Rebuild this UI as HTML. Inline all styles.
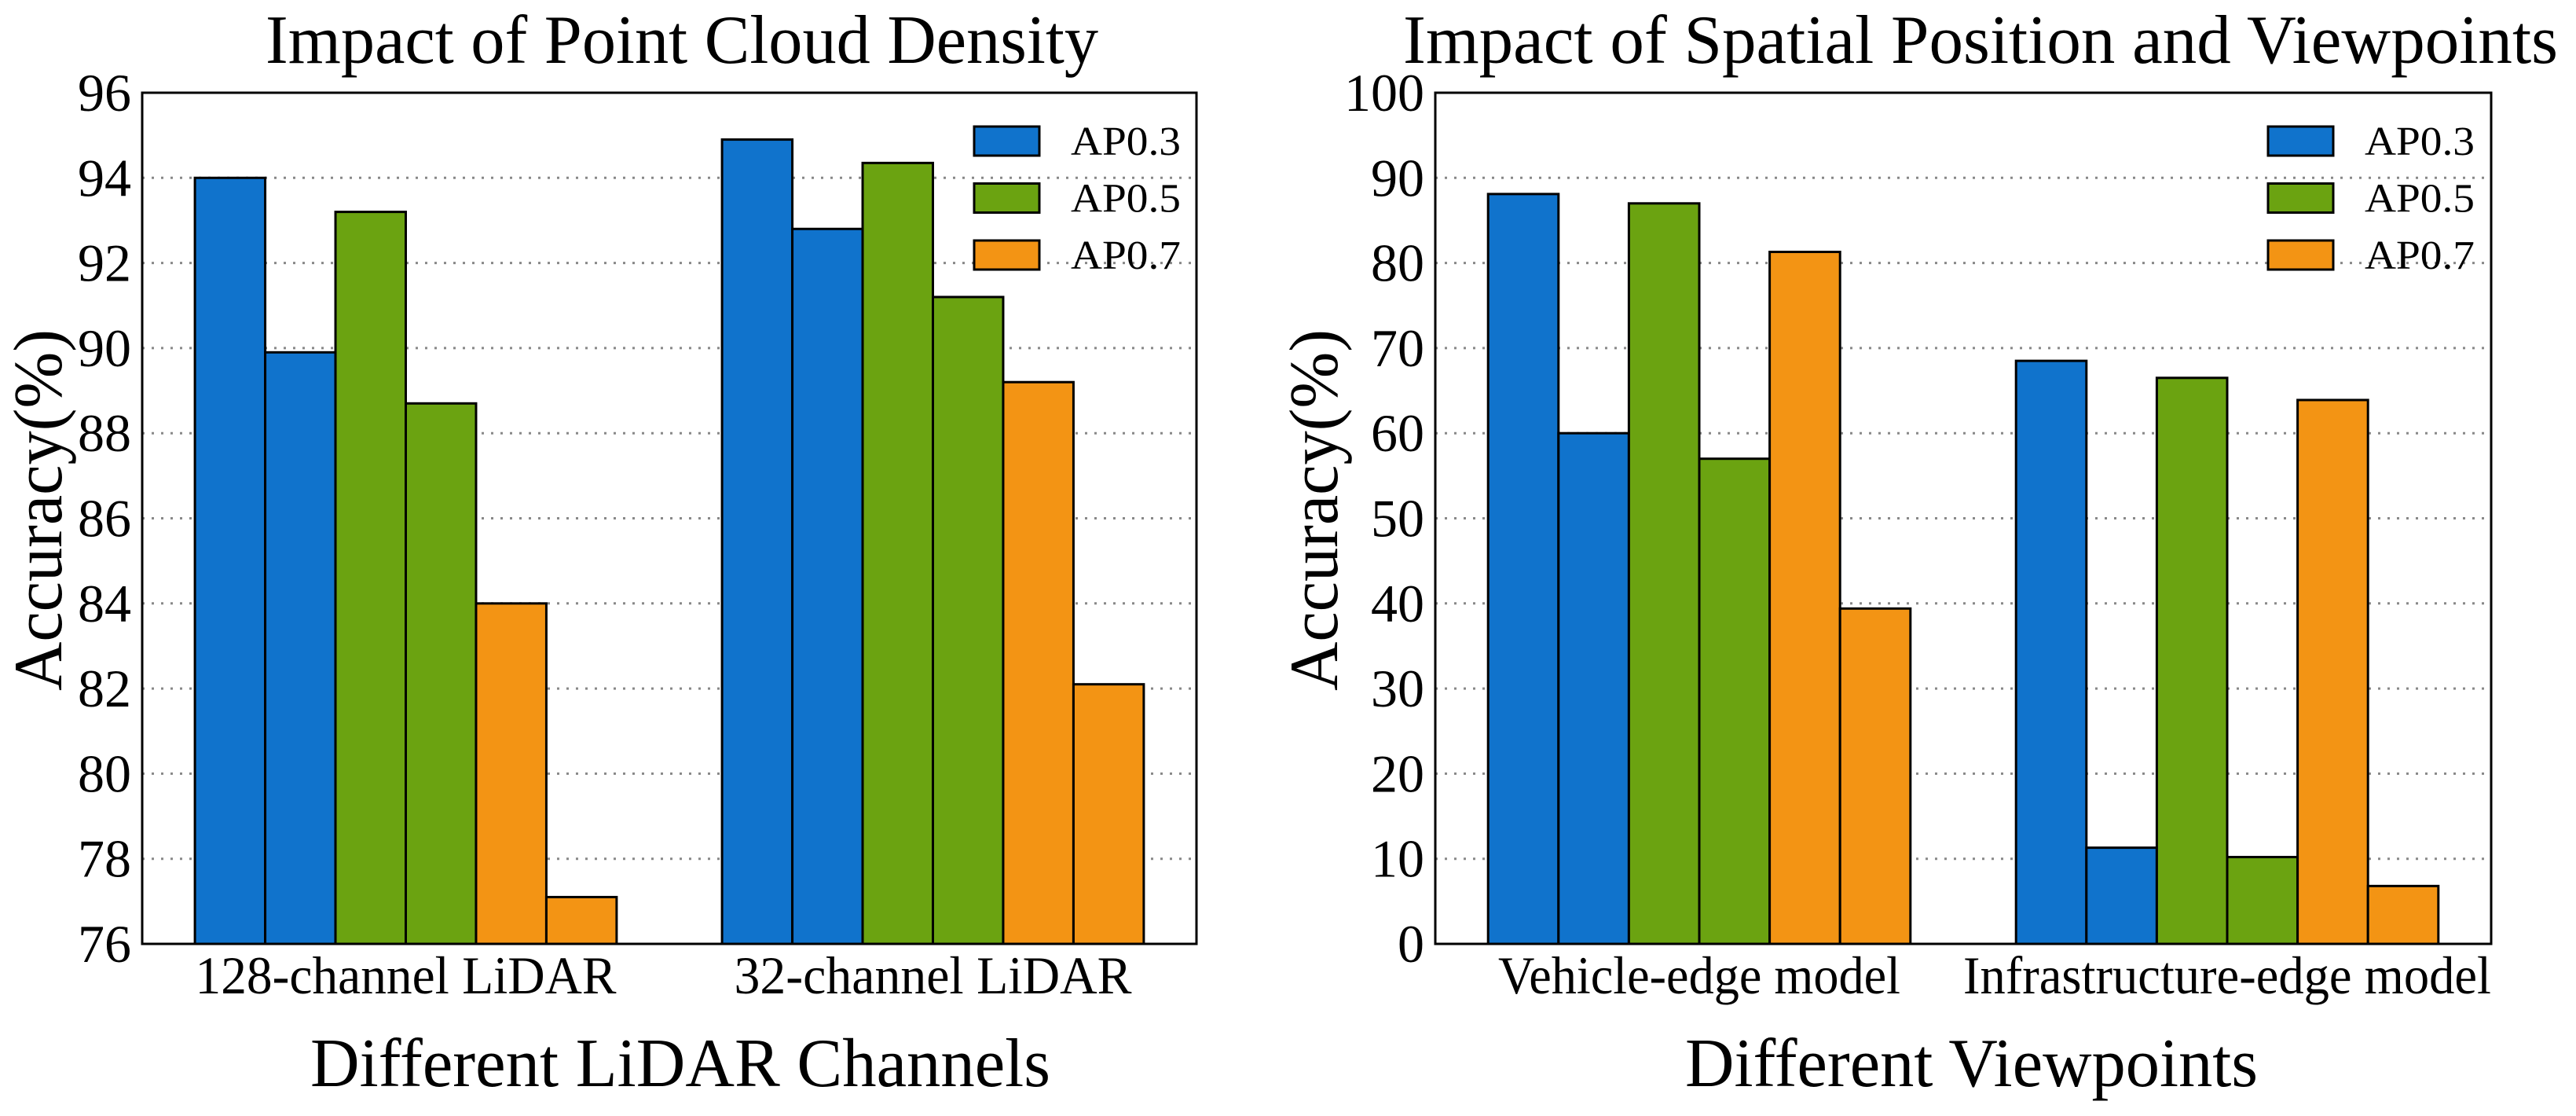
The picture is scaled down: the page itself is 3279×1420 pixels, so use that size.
<!DOCTYPE html>
<html><head><meta charset="utf-8"><style>html,body{margin:0;padding:0;background:#fff;overflow:hidden}svg{display:block}</style></head>
<body>
<svg id="chart" width="3279" height="1420" viewBox="0 0 3279 1420" xmlns="http://www.w3.org/2000/svg" font-family="Liberation Serif, serif"></svg>
<script>
const seriesNames = ["AP0.3", "AP0.5", "AP0.7"];
const seriesColors = ["#1073cc", "#6ba311", "#f39414"];
const leftCategories = ["128-channel LiDAR", "32-channel LiDAR"];
const leftAP03 = [[94.0, 89.9], [94.9, 92.8]];
const leftAP05 = [[93.2, 88.7], [94.35, 91.2]];
const leftAP07 = [[84.0, 77.1], [89.2, 82.1]];
const leftTicks = [76, 78, 80, 82, 84, 86, 88, 90, 92, 94, 96];
const rightCategories = ["Vehicle-edge model", "Infrastructure-edge model"];
const rightAP03 = [[88.1, 60.0], [68.5, 11.3]];
const rightAP05 = [[87.0, 57.0], [66.5, 10.2]];
const rightAP07 = [[81.3, 39.4], [63.9, 6.8]];
const rightTicks = [0, 10, 20, 30, 40, 50, 60, 70, 80, 90, 100];

const NS = "http://www.w3.org/2000/svg";
const svg = document.getElementById("chart");
function mk(tag, attrs, parent) {
  const e = document.createElementNS(NS, tag);
  for (const k in attrs) e.setAttribute(k, attrs[k]);
  (parent || svg).appendChild(e);
  return e;
}

function panel(cfg) {
  const g = mk("g", {});
  
  
  const L = cfg.left, R = cfg.right, T = 118, B = 1201;
  const ymin = cfg.ticks[0], ymax = cfg.ticks[cfg.ticks.length - 1];
  const y = v => B - (v - ymin) / (ymax - ymin) * (B - T);
  const x = u => L + (u + 0.5) / 2.0 * (R - L);
  const bw = 0.8 / 6;
  cfg.ticks.forEach(t => {
    if (t !== ymin && t !== ymax) {
      const gl = mk("line", {x1: L, x2: R, y1: y(t), y2: y(t), stroke: "#888", "stroke-width": 3, "stroke-dasharray": "3,9"}, g);
      
      
    }
    const tl = mk("text", {x: L - 14, y: y(t) + 23, "font-size": 68, "text-anchor": "end"}, g);
    tl.textContent = t;
    
    
  });
  const series = cfg.series;
  cfg.categories.forEach((c, ci) => {
    series.forEach((s, si) => {
      s[ci].forEach((v, k) => {
        const idx = si * 2 + k;
        const u0 = ci - 0.4 + idx * bw;
        const r = mk("rect", {x: x(u0), y: y(v), width: x(u0 + bw) - x(u0), height: B - y(v), fill: seriesColors[si], stroke: "#000", "stroke-width": 3}, g);
        
        
      });
    });
    const xl = mk("text", {x: x(ci), y: 1264, "font-size": 68, "text-anchor": "middle", textLength: cfg.xlabW[ci], lengthAdjust: "spacingAndGlyphs"}, g);
    xl.textContent = c;
    
    
  });
  const fr = mk("rect", {x: L, y: T, width: R - L, height: B - T, fill: "none", stroke: "#000", "stroke-width": 3}, g);
  
  
  seriesNames.forEach((n, i) => {
    const ly = 161 + i * 72.5;
    const lr = mk("rect", {x: cfg.legX, y: ly, width: 83, height: 37, fill: seriesColors[i], stroke: "#000", "stroke-width": 3}, g);
    
    
    const lt = mk("text", {x: cfg.legX + 123, y: ly + 36, "font-size": 52, textLength: 140, lengthAdjust: "spacingAndGlyphs"}, g);
    lt.textContent = n;
    
    
  });
  const tt = mk("text", {x: cfg.titleX, y: 80, "font-size": 88, textLength: cfg.titleW, lengthAdjust: "spacingAndGlyphs"}, g);
  tt.textContent = cfg.title;
  
  
  const xt = mk("text", {x: cfg.xtX, y: 1382, "font-size": 88, textLength: cfg.xtW, lengthAdjust: "spacingAndGlyphs"}, g);
  xt.textContent = cfg.xtitle;
  
  
  const yt = mk("text", {x: 0, y: 0, "font-size": 88, "text-anchor": "middle", textLength: 460, lengthAdjust: "spacingAndGlyphs", transform: `translate(${cfg.ytX},649) rotate(-90)`}, g);
  yt.textContent = "Accuracy(%)";
  
  
}

panel({name: "density-panel", left: 181, right: 1523, ticks: leftTicks, categories: leftCategories,
  series: [leftAP03, leftAP05, leftAP07], xlabW: [536, 506], legX: 1240,
  title: "Impact of Point Cloud Density", titleX: 338, titleW: 1060,
  xtitle: "Different LiDAR Channels", xtX: 395, xtW: 942, ytX: 78});
panel({name: "viewpoint-panel", left: 1827, right: 3171, ticks: rightTicks, categories: rightCategories,
  series: [rightAP03, rightAP05, rightAP07], xlabW: [512, 672], legX: 2887,
  title: "Impact of Spatial Position and Viewpoints", titleX: 1786, titleW: 1470,
  xtitle: "Different Viewpoints", xtX: 2145, xtW: 729, ytX: 1702});
</script>
</body></html>
